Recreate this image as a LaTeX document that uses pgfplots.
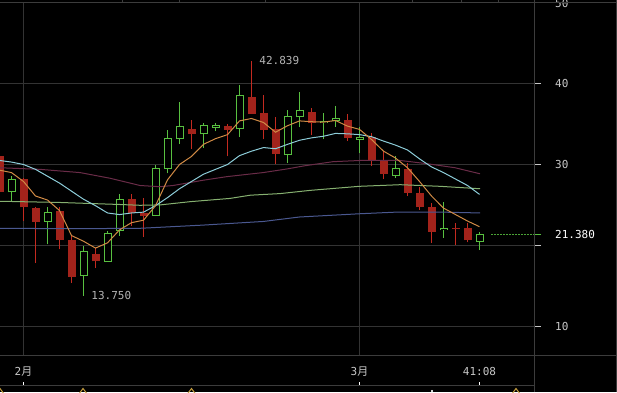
\documentclass[border=0pt]{standalone}
\usepackage{fontspec}
\setmainfont{DejaVu Sans Mono}
\newfontfamily\cjk{Noto Sans CJK SC}
\usepackage{pgfplots}
\usepackage{pgfplotstable}
\pgfplotsset{compat=1.18}

\definecolor{cgreen}{HTML}{58C040}
\definecolor{cred}{HTML}{A3231B}
\definecolor{credw}{HTML}{C42A20}
\definecolor{gridc}{HTML}{333333}
\definecolor{framec}{HTML}{3C3C3C}
\definecolor{maA}{HTML}{D08A45}
\definecolor{maB}{HTML}{8CCCD8}
\definecolor{maC}{HTML}{6A2C48}
\definecolor{maD}{HTML}{86B070}
\definecolor{maE}{HTML}{4A5890}
\definecolor{tickc}{HTML}{C8C8C8}
\definecolor{labc}{HTML}{B4B4B4}
\definecolor{goldc}{HTML}{C8A040}

\pgfplotstableread{
k O H L C
0 31.0 31.3 26.3 26.6
2 28.2 28.3 23.0 24.7
3 24.6 24.7 17.8 22.9
5 24.3 24.8 19.5 20.7
6 20.7 21.3 15.3 16.1
8 18.9 19.7 17.2 18.0
11 25.7 26.3 22.4 24.0
12 24.0 25.9 21.0 23.6
16 34.4 35.5 31.9 33.8
19 34.8 35.05 31.0 34.3
21 38.4 42.839 36.3 36.3
22 36.4 38.6 33.1 34.3
23 34.4 35.9 30.1 31.3
26 36.5 37.0 33.6 35.1
29 35.55 36.3 32.9 33.3
31 33.4 33.9 29.8 30.5
32 30.4 31.65 28.2 28.85
34 29.5 30.2 26.1 26.5
35 26.5 27.2 24.4 24.7
36 24.75 25.2 20.3 21.7
38 22.15 22.8 20.05 22.05
39 22.1 22.75 20.35 20.6
}\redtab

\pgfplotstableread{
k O H L C
1 26.6 28.6 25.4 28.2
4 23.0 24.8 20.1 24.1
7 16.25 19.9 13.75 19.2
9 18.0 21.8 18.0 21.5
10 21.8 26.4 21.2 25.7
13 23.7 30.0 23.6 29.5
14 29.5 34.3 28.9 33.2
15 33.2 37.8 32.6 34.7
17 33.8 35.2 32.1 34.8
18 34.6 35.2 34.1 34.8
20 34.4 39.8 33.4 38.6
24 31.2 36.7 30.2 36.0
25 35.9 39.0 34.6 36.7
27 35.2 36.4 33.1 35.3
28 35.4 37.2 34.7 35.7
30 33.1 34.6 31.4 33.4
33 28.7 31.1 28.35 29.5
37 21.9 25.3 20.9 22.1
40 20.5 21.7 19.4 21.38
}\greentab

\begin{document}
\begin{tikzpicture}
\fill[black] (0,0) rectangle (617pt,392pt);
\useasboundingbox (0,0) rectangle (617pt,392pt);
\clip (0,0) rectangle (617pt,392pt);

% main price panel
\begin{axis}[
  at={(0pt,37pt)}, anchor=south west,
  width=534pt, height=352pt, scale only axis,
  xmin=0.0417, xmax=44.54, ymin=6.41, ymax=50,
  axis line style={draw=none},
  xtick={2,30}, xticklabels={}, xtick style={draw=none},
  xmajorgrids, ymajorgrids,
  grid style={draw=gridc, line width=1pt},
  ytick={10,20,30,40,50}, yticklabels={10,,30,40,50},
  ytick pos=right, yticklabel pos=right,
  tick align=outside, major tick length=7pt,
  ytick style={draw=tickc, line width=1pt},
  yticklabel style={font=\fontsize{11}{13}\selectfont, text=tickc, anchor=west, inner sep=0pt, xshift=14pt},
  extra y ticks={21.38}, extra y tick labels={21.380},
  extra y tick style={grid=none, ytick style={draw=cgreen, line width=1pt}, yticklabel style={text=white}},
]
% red candles: wicks and bodies
\addplot[forget plot, draw=none, mark=none, error bars/.cd, y dir=plus, y explicit, error mark=none,
  error bar style={draw=credw, line width=1pt, solid}]
  table[x=k, y=L, y error plus expr=\thisrow{H}-\thisrow{L}] {\redtab};
\addplot[forget plot, draw=none, mark=none, error bars/.cd, y dir=plus, y explicit, error mark=none,
  error bar style={draw=cred, line width=8pt, solid}]
  table[x=k, y=C, y error plus expr=\thisrow{O}-\thisrow{C}] {\redtab};
% green candles: wicks, outlined hollow bodies
\addplot[forget plot, draw=none, mark=none, error bars/.cd, y dir=plus, y explicit, error mark=none,
  error bar style={draw=cgreen, line width=1pt, solid}]
  table[x=k, y=L, y error plus expr=\thisrow{H}-\thisrow{L}] {\greentab};
\addplot[forget plot, draw=none, mark=none, error bars/.cd, y dir=plus, y explicit, error mark=none,
  error bar style={draw=cgreen, line width=8pt, solid}]
  table[x=k, y expr=\thisrow{O}-0.062, y error plus expr=\thisrow{C}-\thisrow{O}+0.124] {\greentab};
\addplot[forget plot, draw=none, mark=none, error bars/.cd, y dir=plus, y explicit, error mark=none,
  error bar style={draw=black, line width=6pt, solid}]
  table[x=k, y expr=\thisrow{O}+0.062, y error plus expr=\thisrow{C}-\thisrow{O}-0.124] {\greentab};

% moving averages
\addplot[maE, line width=1pt, mark=none] coordinates {(0.04,22.1)(6,22.05)(11.7,22.1)(17,22.5)(22,22.95)(25,23.5)(30,23.9)(33,24.1)(37,24.1)(40.04,24.0)};
\addplot[maD, line width=1pt, mark=none] coordinates {(0.04,25.45)(5,25.3)(10,25.05)(11.7,24.95)(13.4,25.0)(15.9,25.4)(19.2,25.8)(20.9,26.2)(23.4,26.4)(25.9,26.8)(30,27.3)(33.4,27.5)(36.7,27.3)(40.04,27.0)};
\addplot[maC, line width=1pt, mark=none] coordinates {(0.04,29.6)(3.38,29.4)(6.71,29.0)(9.21,28.3)(11.71,27.4)(13.38,27.25)(14.46,27.4)(16.96,28.05)(18.96,28.5)(21.96,29.0)(23.96,29.45)(25.46,29.85)(27.79,30.35)(30.04,30.5)(33.38,30.5)(35.63,30.1)(37.96,29.6)(40.04,28.85)};
\addplot[maB, line width=1pt, mark=none] coordinates {(0,30.5)(1,30.3)(2,30.0)(3,29.4)(4,28.55)(5,27.7)(6,26.7)(7,25.7)(8,24.9)(9,24.0)(10,23.8)(11,24.0)(12,24.1)(13,24.9)(14,25.9)(15,27.0)(16,27.9)(17,28.8)(18,29.4)(19,30.0)(20,31.1)(21,31.65)(22,32.1)(23,31.95)(24,32.5)(25,33.0)(26,33.3)(27,33.5)(28,33.85)(29,33.8)(30,33.7)(31,33.45)(32,32.9)(33,32.4)(34,31.8)(35,30.7)(36,29.7)(37,29.0)(38,28.2)(39,27.4)(40,26.3)};
\addplot[maA, line width=1pt, mark=none] coordinates {(0,29.3)(1,29.0)(2,27.9)(3,26.1)(4,25.6)(5,24.3)(6,21.2)(7,20.5)(8,19.65)(9,20.3)(10,21.9)(11,22.8)(12,23.1)(13,24.9)(14,28.1)(15,30.0)(16,31.0)(17,32.5)(18,33.2)(19,33.7)(20,35.4)(21,35.7)(22,35.2)(23,34.0)(24,34.8)(25,35.4)(26,35.3)(27,35.25)(28,35.45)(29,34.75)(30,34.35)(31,33.1)(32,31.65)(33,30.8)(34,29.6)(35,27.9)(36,26.1)(37,24.6)(38,23.8)(39,23.0)(40,22.3)};
% last price dotted line
\addplot[cgreen!85!black, line width=1pt, dash pattern=on 1.5pt off 1.5pt, mark=none] coordinates {(40.96,21.38)(44.6,21.38)};

\node[anchor=west, inner sep=0pt, xshift=7.7pt, text=labc, font=\fontsize{11}{13}\selectfont] at (axis cs:21,42.839) {42.839};
\node[anchor=west, inner sep=0pt, xshift=7.7pt, text=labc, font=\fontsize{11}{13}\selectfont] at (axis cs:7,13.75) {13.750};
\end{axis}

% bottom date strip
\begin{axis}[
  at={(0pt,7pt)}, anchor=south west,
  width=534pt, height=30pt, scale only axis,
  xmin=0.0417, xmax=44.54, ymin=0, ymax=1,
  axis line style={draw=none}, ytick=\empty,
  xtick={2,30,40}, xticklabels={{2\cjk{月}},{3\cjk{月}},{41:08}},
  xtick pos=bottom, tick align=inside, major tick length=3pt,
  xtick style={draw=white, line width=1pt},
  xticklabel style={anchor=center, yshift=13.5pt, inner sep=0pt, font=\fontsize{11}{13}\selectfont, text=tickc},
  clip=false,
]
\addplot[only marks, mark=diamond, mark size=4.5pt, draw=goldc, line width=1pt, mark options={solid, fill=none}] coordinates {(0.04,-0.267)(6.96,-0.267)(16.0,-0.267)(43.04,-0.267)};
\addplot[only marks, mark=*, mark size=0.9pt, draw=white, fill=white] coordinates {(36.04,-0.2)};
\end{axis}

% top tick strip
\begin{axis}[
  at={(0pt,389pt)}, anchor=south west,
  width=534pt, height=3pt, scale only axis,
  xmin=0.0417, xmax=44.54, ymin=0, ymax=1,
  axis line style={draw=none}, ytick=\empty,
  xtick={10.23,15.0,22.18,34.4,38.5,41.57}, xticklabels={},
  xtick pos=bottom, tick align=inside, major tick length=3pt,
  xtick style={draw=framec, line width=1pt},
]
\end{axis}

% panel frame lines
\draw[framec, line width=1pt] (0,389pt) -- (617pt,389pt);
\draw[framec, line width=1pt] (0,37pt) -- (617pt,37pt);
\draw[framec, line width=1pt] (0,7pt) -- (534pt,7pt);
\draw[framec, line width=1pt] (534pt,0) -- (534pt,392pt);
\draw[framec, line width=1pt] (616pt,0) -- (616pt,392pt);
\end{tikzpicture}
\end{document}
